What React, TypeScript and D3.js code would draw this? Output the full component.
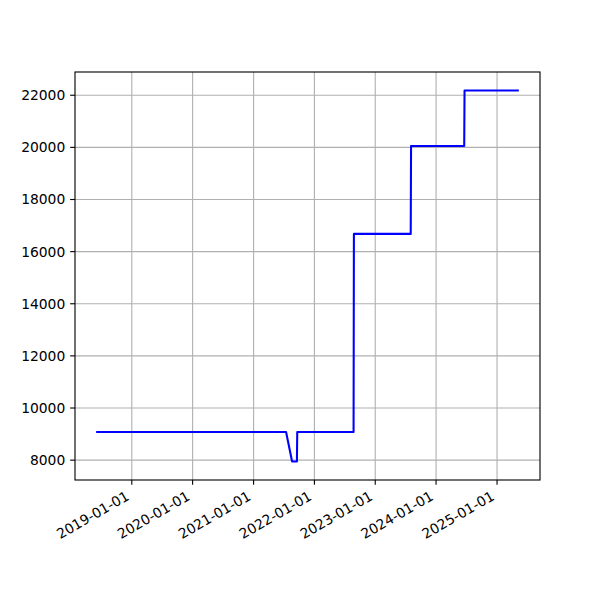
import React from 'react';
import * as d3 from 'd3';

// dates and values
const dates = [
  '2018-06-01', '2021-07-15', '2021-08-20', '2021-09-18', '2021-09-20',
  '2022-08-24', '2022-08-26', '2023-08-02', '2023-08-04', '2024-06-18',
  '2024-06-20', '2025-05-12',
];
const values = [
  9080, 9080, 7950, 7950, 9080,
  9080, 16680, 16680, 20050, 20050,
  22180, 22180,
];
const xTickLabels = [
  '2019-01-01', '2020-01-01', '2021-01-01', '2022-01-01',
  '2023-01-01', '2024-01-01', '2025-01-01',
];
const yTicks = [8000, 10000, 12000, 14000, 16000, 18000, 20000, 22000];

const parse = d3.utcParse('%Y-%m-%d');

const App = () => {
  const width = 600;
  const height = 600;
  const left = 75;
  const right = 540;
  const top = 72;
  const bottom = 480;

  const points = dates.map((d, i) => ({ date: parse(d) as Date, value: values[i] }));

  // matplotlib-like 5% margins
  const [x0, x1] = d3.extent(points, d => +d.date) as [number, number];
  const [y0, y1] = d3.extent(points, d => d.value) as [number, number];
  const xPad = (x1 - x0) * 0.05;
  const yPad = (y1 - y0) * 0.05;

  const x = d3.scaleUtc().domain([new Date(x0 - xPad), new Date(x1 + xPad)]).range([left, right]);
  const y = d3.scaleLinear().domain([y0 - yPad, y1 + yPad]).range([bottom, top]);

  const line = d3.line<{ date: Date; value: number }>()
    .x(d => x(d.date))
    .y(d => y(d.value));

  const tickLen = 4.86;
  const fontSize = 13.89;
  const font = 'DejaVu Sans, sans-serif';

  return (
    <svg width={width} height={height} style={{ display: 'block', margin: '-8px' }}>
      <rect width={width} height={height} fill="white" />
      {/* grid */}
      {xTickLabels.map(t => (
        <line key={'gx' + t} x1={x(parse(t) as Date)} x2={x(parse(t) as Date)} y1={top} y2={bottom}
          stroke="#b0b0b0" strokeWidth={1.11} />
      ))}
      {yTicks.map(t => (
        <line key={'gy' + t} x1={left} x2={right} y1={y(t)} y2={y(t)}
          stroke="#b0b0b0" strokeWidth={1.11} />
      ))}
      {/* data */}
      <path d={line(points) || ''} fill="none" stroke="blue" strokeWidth={2.08} strokeLinejoin="round" />
      {/* spines */}
      <rect x={left} y={top} width={right - left} height={bottom - top} fill="none" stroke="black" strokeWidth={1.11} />
      {/* x ticks */}
      {xTickLabels.map(t => {
        const tx = x(parse(t) as Date);
        const bx = tx - 1.7;
        const by = 499;
        return (
          <g key={'xt' + t}>
            <line x1={tx} x2={tx} y1={bottom} y2={bottom + tickLen} stroke="black" strokeWidth={1.11} />
            <text x={bx} y={by} textAnchor="end" fontFamily={font} fontSize={fontSize}
              transform={`rotate(-30, ${bx}, ${by})`}>{t}</text>
          </g>
        );
      })}
      {/* y ticks */}
      {yTicks.map(t => (
        <g key={'yt' + t}>
          <line x1={left - tickLen} x2={left} y1={y(t)} y2={y(t)} stroke="black" strokeWidth={1.11} />
          <text x={left - 2 * tickLen} y={y(t)} dy="0.36em" textAnchor="end" fontFamily={font} fontSize={fontSize}>{t}</text>
        </g>
      ))}
    </svg>
  );
};

export default App;
